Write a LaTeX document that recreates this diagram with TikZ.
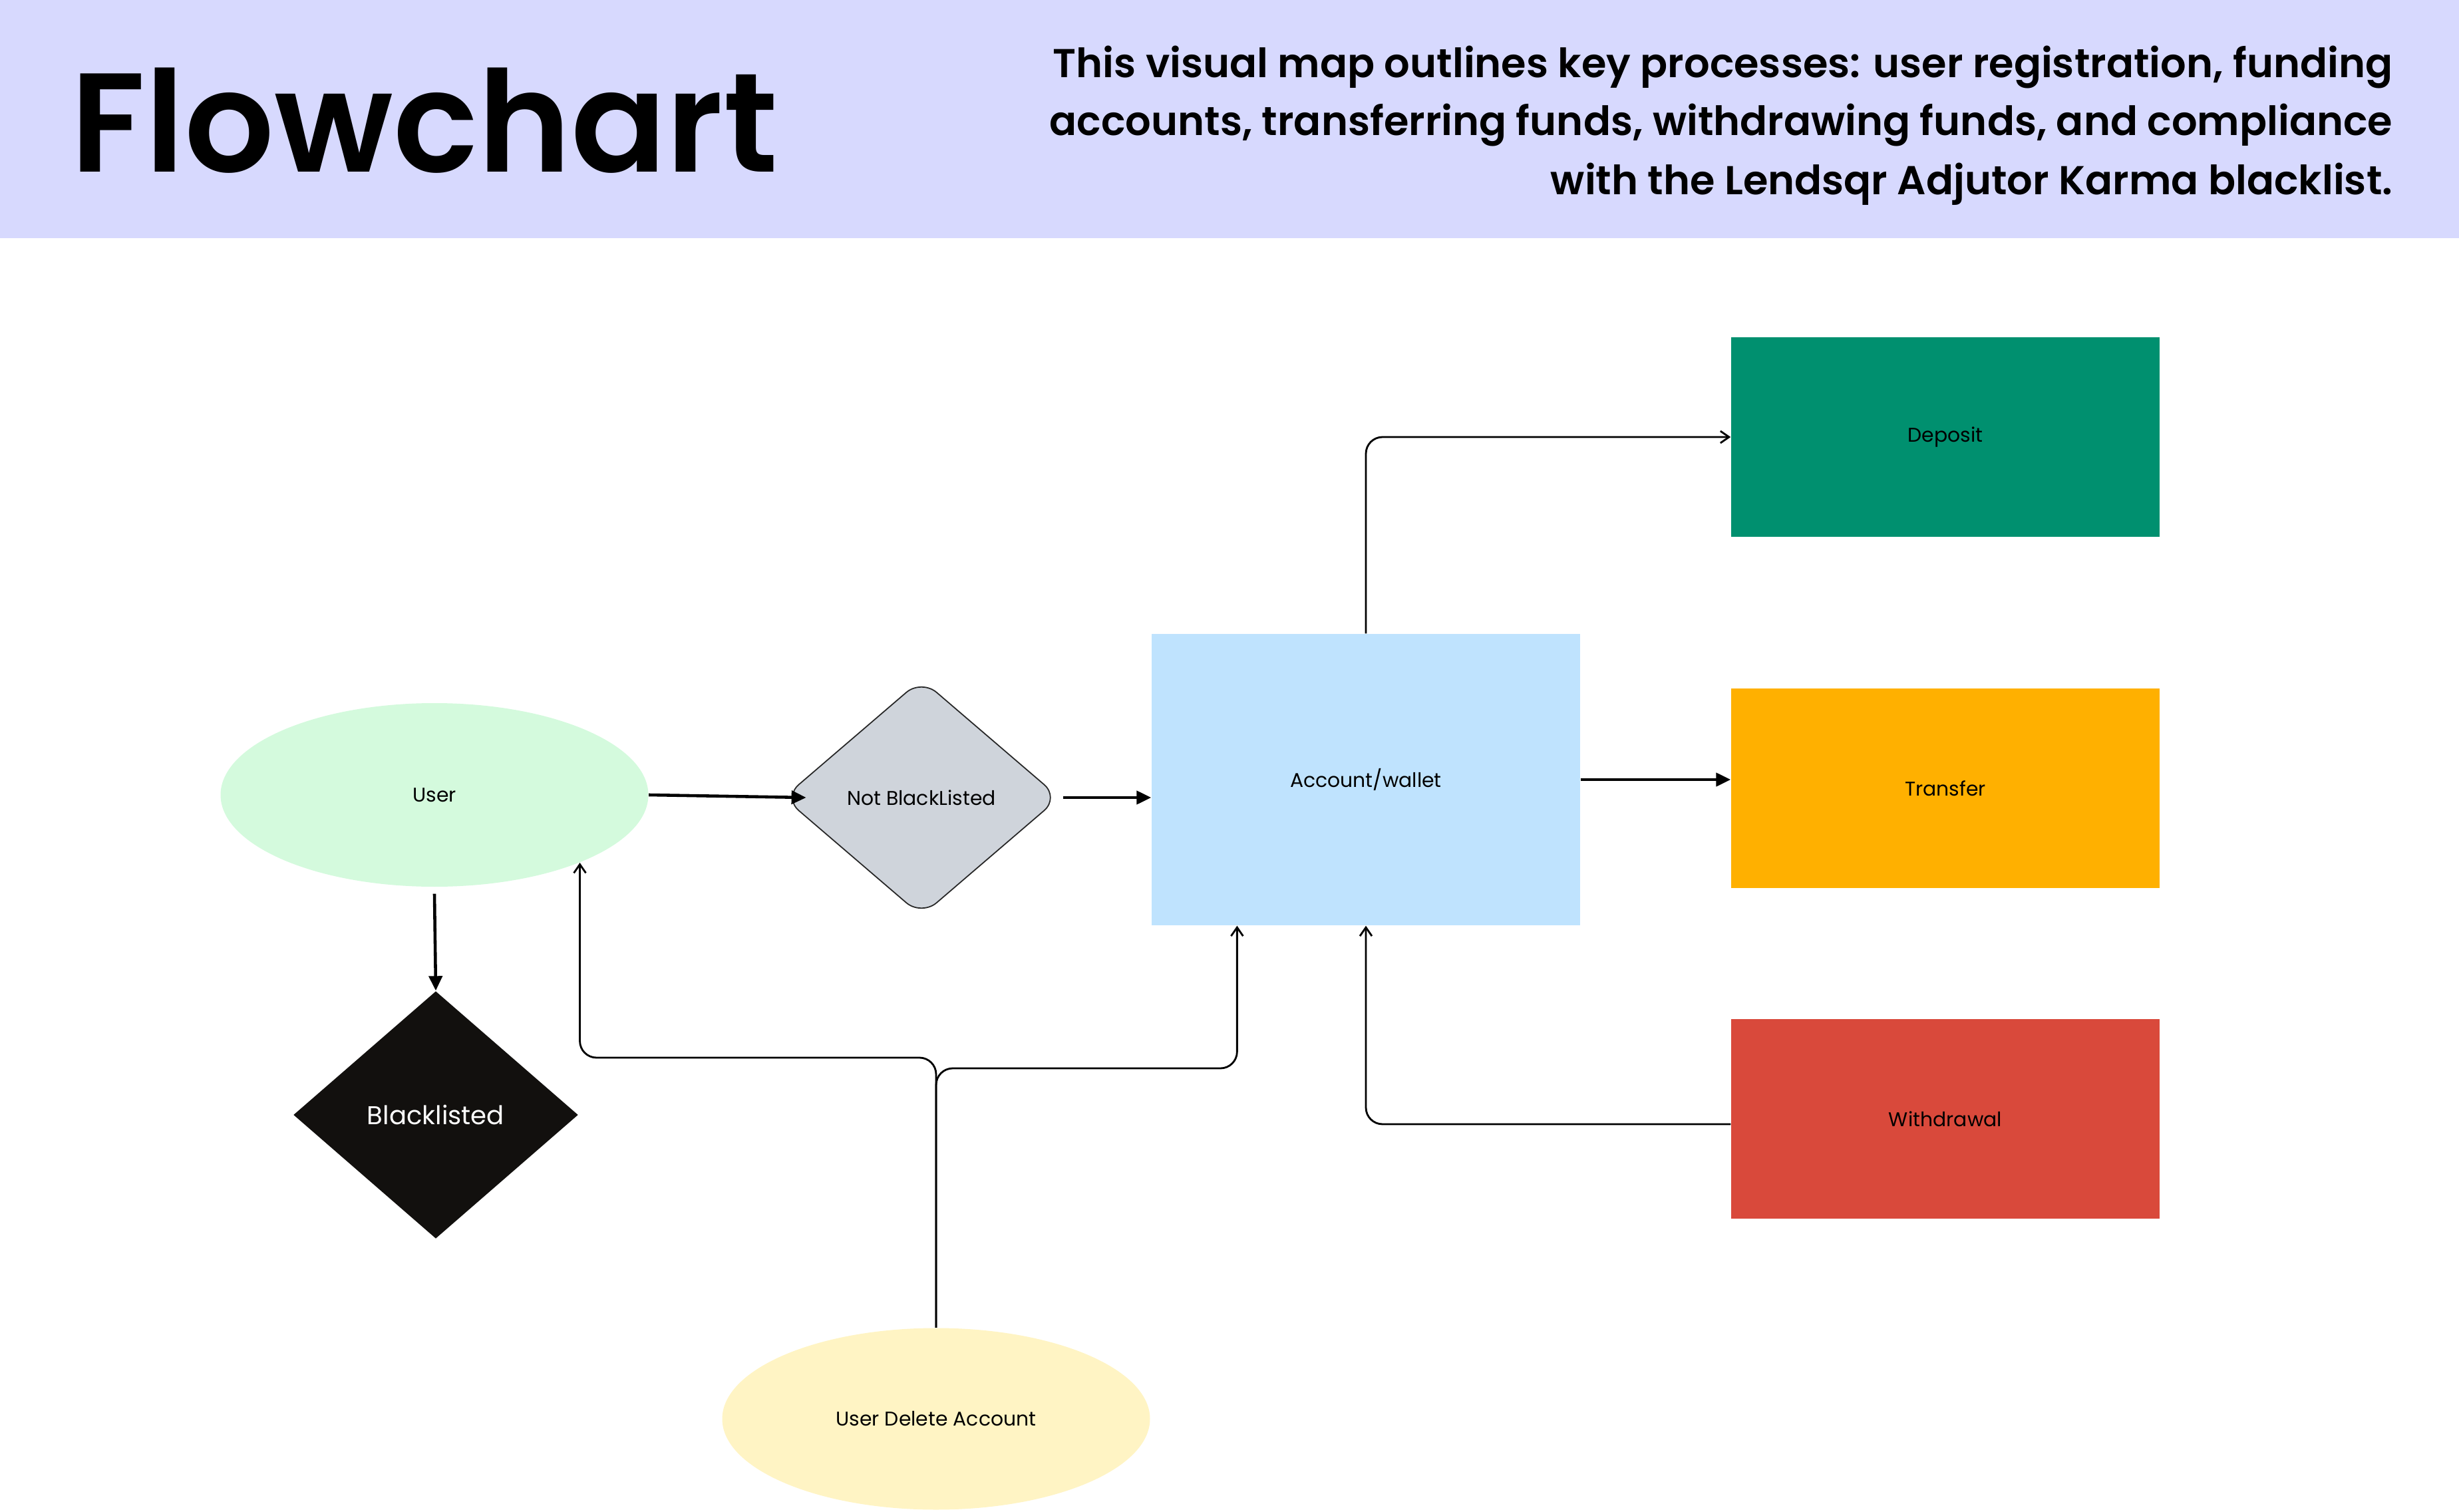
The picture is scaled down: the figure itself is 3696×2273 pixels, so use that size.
\documentclass[tikz,border=0pt]{standalone}
\usepackage{fontspec}
\setmainfont{Poppins}
\IfFontExistsTF{Poppins SemiBold}{\newfontfamily\headfont{Poppins SemiBold}}{\newfontfamily\headfont{Poppins}[FakeBold=1.5]}
\usetikzlibrary{shapes.geometric,arrows.meta,calc}

\definecolor{bannerblue}{HTML}{D7D9FE}
\definecolor{usergreen}{HTML}{D4FADD}
\definecolor{deleteyellow}{HTML}{FFF4C4}
\definecolor{walletblue}{HTML}{BFE3FE}
\definecolor{depositgreen}{HTML}{00906F}
\definecolor{transferorange}{HTML}{FFB000}
\definecolor{withdrawred}{HTML}{D9493B}
\definecolor{checkgray}{HTML}{CFD4DB}
\definecolor{blackdiamond}{HTML}{12100E}

\begin{document}
\begin{tikzpicture}[x=0.1mm,y=-0.1mm,
    label/.style={font=\fontsize{8.5}{10}\selectfont, text=black},
    action/.style={rectangle, minimum width=64.4mm, minimum height=30mm, inner sep=0pt, label},
    bigarrow/.style={line width=1.3pt, -{Triangle[length=2.2mm,width=2mm]}},
    thinarrow/.style={line width=0.8pt, rounded corners=2.5mm, -{Straight Barb[length=1.3mm,width=1.8mm]}}]
    \useasboundingbox (0,0) rectangle (3696,2273);
    % header
    \fill[bannerblue] (0,0) rectangle (3696,358);
    \node[anchor=base west, inner sep=0pt, font=\headfont\fontsize{60.2}{60}\selectfont] (title) at (106,259) {Flowchart};
    \node[anchor=base east, inner sep=0pt, font=\headfont\fontsize{17.25}{20}\selectfont] (desc1) at (3597,117) {This visual map outlines key processes: user registration, funding};
    \node[anchor=base east, inner sep=0pt, font=\headfont\fontsize{17.25}{20}\selectfont] (desc2) at (3597,204) {accounts, transferring funds, withdrawing funds, and compliance};
    \node[anchor=base east, inner sep=0pt, font=\headfont\fontsize{17.25}{20}\selectfont] (desc3) at (3597,293) {with the Lendsqr Adjutor Karma blacklist.};

    \node[ellipse, fill=usergreen, minimum width=64.3mm, minimum height=27.6mm, inner sep=0pt, label] (user) at (653,1195) {User};
    \node[diamond, fill=checkgray, draw=black!85, line width=0.5pt, rounded corners=3mm, minimum width=41.5mm, minimum height=35.6mm, inner sep=0pt, label] (notbl) at (1385,1199) {Not BlackListed};
    \node[diamond, fill=blackdiamond, minimum width=42.8mm, minimum height=37.2mm, inner sep=0pt, font=\fontsize{11}{13}\selectfont, text=white] (black) at (655,1676) {Blacklisted};
    \node[rectangle, fill=walletblue, minimum width=64.4mm, minimum height=43.8mm, inner sep=0pt, label] (wallet) at (2053,1172) {Account/wallet};
    \node[action, fill=depositgreen] (deposit) at (2924,657) {Deposit};
    \node[action, fill=transferorange] (transfer) at (2924,1185) {Transfer};
    \node[action, fill=withdrawred] (withdraw) at (2924,1682) {Withdrawal};
    \node[ellipse, fill=deleteyellow, minimum width=64.3mm, minimum height=27.3mm, inner sep=0pt, label] (delete) at (1407,2133) {User Delete Account};

    \draw[bigarrow] (user.east) -- ([xshift=3.5mm]notbl.west);
    \draw[bigarrow] ([xshift=0.5mm]notbl.east) -- (notbl.east -| wallet.west);
    \draw[bigarrow] (wallet.east) -- (wallet.east -| transfer.west);
    \draw[bigarrow] ([yshift=-1mm]user.south) -- (black.north);

    \coordinate (split) at (0,1590);
    \coordinate (splitb) at (0,1606);
    \coordinate (walletin) at ($(wallet.south west)!0.4!(wallet.south)$);
    \draw[thinarrow] (delete.north) |- (user.-25 |- split) -- (user.-25);
    \draw[thinarrow] (delete.north) |- (walletin |- splitb) -- (walletin);
    \draw[thinarrow] ([yshift=-0.8mm]withdraw.west) -| (wallet.south);
    \draw[thinarrow] (wallet.north) |- (deposit.west);
\end{tikzpicture}
\end{document}
